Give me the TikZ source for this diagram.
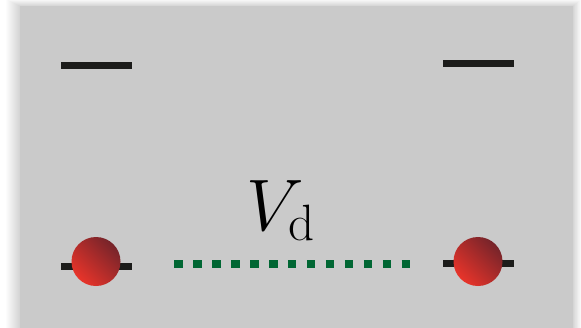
\RequirePackage{fix-cm}
\documentclass[tikz,border=0pt]{standalone}
\usepackage{tikz}
\usetikzlibrary{positioning}
\definecolor{panelgray}{RGB}{202,202,202}
\definecolor{dotgreen}{RGB}{0,102,51}
\definecolor{balllight}{RGB}{232,52,42}
\definecolor{balldark}{RGB}{118,36,42}

\begin{document}
\begin{tikzpicture}[x=1pt,y=-1pt,
    level/.style={fill={rgb,255:red,28;green,28;blue,26},inner sep=0pt,minimum width=71pt,minimum height=7pt},
    ball/.style={circle,inner sep=0pt,minimum size=49pt,shading=axis,top color=balldark,bottom color=balllight,shading angle=-45},
    coupling/.style={dotgreen,line width=8.5pt,dash pattern=on 8.5pt off 10.46pt}]
    \useasboundingbox (0,0) rectangle (581,327);
    % soft shadow round the panel
    \foreach \s in {1,...,14}
        \fill[black,opacity=0.012] (20-\s,6-0.5*\s) rectangle (573+0.6*\s,340);
    \fill[panelgray] (20,6) rectangle (573,340);

    % left site
    \node[level] (LU) at (96.2,65.3) {};
    \node[level] (LD) at (96.2,266.5) {};
    \node[ball] (BL) at (96,261.5) {};

    % right site
    \node[level] (RU) at (478.8,63) {};
    \node[level] (RD) at (478.8,263.7) {};
    \node[ball] (BR) at (478,261.5) {};

    \draw[coupling,shorten <=53.5pt,shorten >=43.5pt] ([yshift=-2.5pt]BL.east) -- ([yshift=-2.5pt]BR.west);
    \node[anchor=base,font=\fontsize{73}{80}\selectfont] (Vd) at (281,230) {$V_{\mathrm{d}}$};
\end{tikzpicture}
\end{document}
